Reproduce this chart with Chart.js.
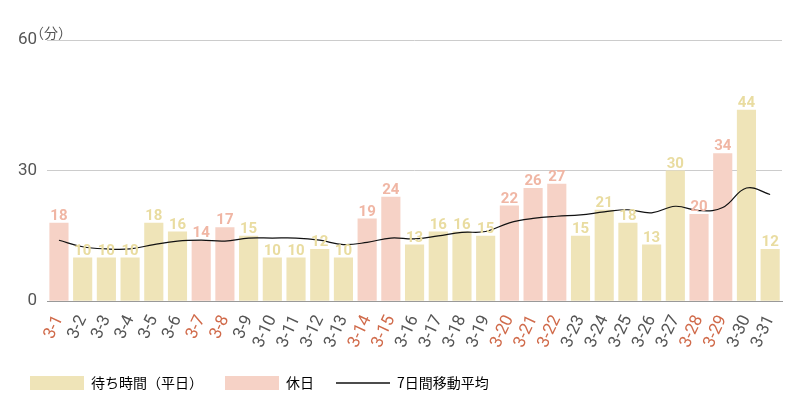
<!DOCTYPE html>
<html><head><meta charset="utf-8">
<script src="https://cdn.jsdelivr.net/npm/chart.js@4"></script>
<style>body{margin:0;background:#fff}#w{width:800px;height:400px;position:relative}</style>
</head><body><div id="w"><canvas id="c"></canvas></div>
<script>
const categories=["3-1","3-2","3-3","3-4","3-5","3-6","3-7","3-8","3-9","3-10","3-11","3-12","3-13","3-14","3-15","3-16","3-17","3-18","3-19","3-20","3-21","3-22","3-23","3-24","3-25","3-26","3-27","3-28","3-29","3-30","3-31"];
const waitTimes=[18,10,10,10,18,16,14,17,15,10,10,12,10,19,24,13,16,16,15,22,26,27,15,21,18,13,30,20,34,44,12];
const holidays=[1,0,0,0,0,0,1,1,0,0,0,0,0,1,1,0,0,0,0,1,1,1,0,0,0,0,0,1,1,0,0];
const movingAvg=[14,12.5,12,12,13,13.8,14,13.8,14.5,14.5,14.5,14,13,13.5,14.5,14.3,15,15.8,16,18,19,19.5,19.8,20.5,21,20.3,21.8,20.8,21.5,26,24.5];
const yTicks=[0,30,60];
const WD='#efe4b8',HD='#f6d2c6',WDT='#e9dca0',HDT='#f0b6a4';
const weekday=waitTimes.map((v,i)=>holidays[i]?null:v);
const holiday=waitTimes.map((v,i)=>holidays[i]?v:null);
const labelPlugin={id:'vals',afterDatasetsDraw(ch){const c=ch.ctx;c.save();c.font='bold 15px "Liberation Sans Narrow", Roboto, sans-serif';c.textAlign='center';c.textBaseline='bottom';
[0,1].forEach(d=>{ch.getDatasetMeta(d).data.forEach((el,i)=>{const v=ch.data.datasets[d].data[i];if(v==null)return;c.fillStyle=d?HDT:WDT;c.fillText(v,el.x,el.y+1);});});
c.font='14px "Noto Sans CJK JP", sans-serif';c.fillStyle='#555';c.textAlign='left';c.fillText('（分）',30,40);c.restore();}};
new Chart(document.getElementById('c'),{
data:{labels:categories,datasets:[
{type:'bar',label:'待ち時間（平日）',data:weekday,backgroundColor:WD,stack:'b',categoryPercentage:0.85,barPercentage:0.95,order:2,pointStyle:'rect'},
{type:'bar',label:'休日',data:holiday,backgroundColor:HD,stack:'b',categoryPercentage:0.85,barPercentage:0.95,order:2,pointStyle:'rect'},
{type:'line',label:'7日間移動平均',data:movingAvg,borderColor:'#111',borderWidth:1.2,pointRadius:0,tension:0.4,stack:'l',order:1,pointStyle:'line'}]},
options:{responsive:true,maintainAspectRatio:false,animation:false,
layout:{padding:{left:8,right:18,top:40,bottom:0}},
plugins:{legend:{position:'bottom',align:'start',labels:{font:{size:14,family:'"Noto Sans CJK JP"'},color:'#333',usePointStyle:true,pointStyleWidth:54,padding:22,
generateLabels(ch){return ch.data.datasets.map((d,i)=>({text:d.label,fillStyle:i==2?'#111':d.backgroundColor,strokeStyle:i==2?'#111':d.backgroundColor,lineWidth:i==2?1.5:0,datasetIndex:i,pointStyle:i==2?'line':'rect'}));}}},tooltip:{enabled:false}},
scales:{x:{stacked:true,grid:{display:false},border:{color:'#999'},ticks:{minRotation:65,maxRotation:65,autoSkip:false,font:{size:17,family:'Roboto'},color:ctx=>holidays[ctx.index]?'#d06a4a':'#555'}},
y:{stacked:true,min:0,max:60,afterBuildTicks:a=>{a.ticks=yTicks.map(v=>({value:v}));},grid:{color:'#ccc',drawTicks:false},border:{display:false},ticks:{font:{size:17,family:'Roboto'},color:'#555',padding:10}}}},
plugins:[labelPlugin]});
</script></body></html>
